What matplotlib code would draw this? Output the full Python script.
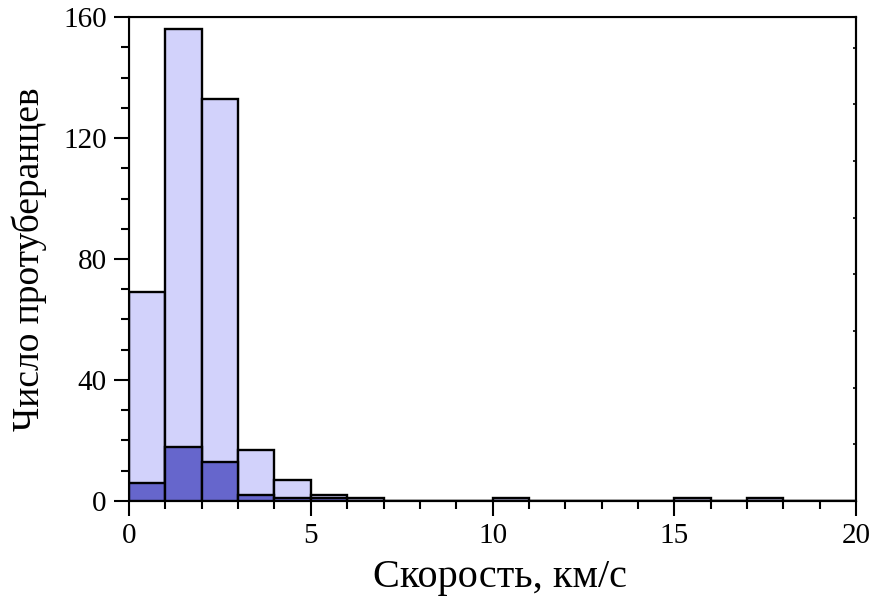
import numpy as np
import matplotlib
matplotlib.use('Agg')
import matplotlib.pyplot as plt
from matplotlib.ticker import MultipleLocator

plt.rcParams['font.family'] = ['Liberation Serif', 'DejaVu Serif']

# histogram of prominence velocities, bins of 1 km/s from 0 to 20
bin_left = np.arange(0, 20)
count_all = [69, 156, 133, 17, 7, 2, 1, 0, 0, 0, 1, 0, 0, 0, 0, 1, 0, 1, 0, 0]
count_sub = [6, 18, 13, 2, 1, 1, 0, 0, 0, 0, 0, 0, 0, 0, 0, 0, 0, 0, 0, 0]

fig = plt.figure(figsize=(8.72, 6.01), dpi=100)
ax = fig.add_axes([0.148, 0.1664, 0.8337, 0.8053])

ax.bar(bin_left, count_all, width=1, align='edge', color='#d2d2fb',
       edgecolor='black', linewidth=1.7, zorder=2)
ax.bar(bin_left, count_sub, width=1, align='edge', color='#6666cc',
       edgecolor='black', linewidth=1.7, zorder=3)

ax.set_xlim(0, 20)
ax.set_ylim(0, 160)
ax.xaxis.set_major_locator(MultipleLocator(5))
ax.xaxis.set_minor_locator(MultipleLocator(1))
ax.yaxis.set_major_locator(MultipleLocator(40))
ax.yaxis.set_minor_locator(MultipleLocator(10))
ax.tick_params(which='major', direction='out', length=11, width=1.5,
               labelsize=21, pad=5, top=False, right=False)
ax.tick_params(which='minor', direction='out', length=6, width=1.5,
               top=False, right=False)
for s in ax.spines.values():
    s.set_linewidth(1.5)

# small inner ticks on the right side
ax2 = ax.twinx()
ax2.set_ylim(0, 17.08)
ax2.yaxis.set_major_locator(MultipleLocator(2))
ax2.tick_params(axis='y', direction='in', length=2, width=1.2, labelright=False)
ax2.spines['right'].set_linewidth(1.5)

ax.set_xlabel('Скорость, км/с', fontsize=29, labelpad=6)
ax.set_ylabel('Число протуберанцев', fontsize=27, labelpad=12)
ax.xaxis.set_label_coords(0.51, -0.12)

fig.savefig('out.png', dpi=100)
